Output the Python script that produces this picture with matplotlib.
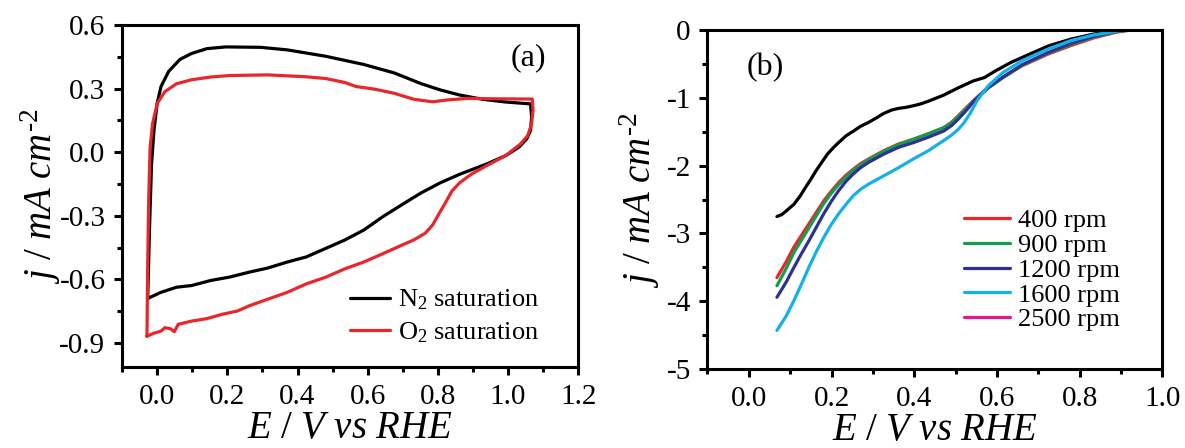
import matplotlib
matplotlib.use("Agg")
import matplotlib.pyplot as plt
from matplotlib.ticker import MultipleLocator

plt.rcParams['font.family'] = ['Liberation Serif', 'DejaVu Serif']
plt.rcParams['mathtext.fontset'] = 'custom'
plt.rcParams['mathtext.rm'] = 'Liberation Serif'
plt.rcParams['mathtext.it'] = 'Liberation Serif:italic'
plt.rcParams['mathtext.bf'] = 'Liberation Serif:bold'

# ---------------- Panel (a): CV curves ----------------
n2_E = [-0.027, -0.022, -0.016, -0.009, 0.0, 0.011, 0.033, 0.065, 0.098, 0.142, 0.196, 0.295,
        0.371, 0.48, 0.589, 0.676, 0.753, 0.807, 0.862, 0.927, 0.993, 1.064,
        1.067, 1.064, 1.053, 1.031, 0.993, 0.938, 0.862, 0.807, 0.753, 0.698, 0.644, 0.589,
        0.535, 0.48, 0.425, 0.371, 0.316, 0.262, 0.207, 0.153, 0.098, 0.055, 0.011, -0.027]
n2_j = [-0.693, -0.375, -0.056, 0.103, 0.23, 0.31, 0.382, 0.438, 0.466, 0.489, 0.497, 0.495,
        0.483, 0.453, 0.414, 0.374, 0.323, 0.294, 0.27, 0.25, 0.237, 0.228,
        0.167, 0.103, 0.063, 0.024, -0.016, -0.056, -0.104, -0.144, -0.191, -0.247, -0.303, -0.367,
        -0.414, -0.454, -0.494, -0.518, -0.546, -0.566, -0.589, -0.605, -0.629, -0.637, -0.661, -0.69]

o2_E = [-0.029, -0.027, -0.024, -0.02, -0.013, 0.0, 0.022, 0.055, 0.098, 0.153, 0.207, 0.316,
        0.425, 0.48, 0.535, 0.567, 0.622, 0.676, 0.731, 0.785, 0.829, 0.884, 0.971, 1.069,
        1.071, 1.067, 1.056, 1.036, 0.993, 0.938, 0.895, 0.862, 0.84, 0.824, 0.807, 0.785,
        0.764, 0.731, 0.687, 0.644, 0.589, 0.535, 0.48, 0.425, 0.371, 0.316, 0.262, 0.229,
        0.185, 0.142, 0.098, 0.06, 0.049, 0.038, 0.022, 0.011, -0.011, -0.029]
o2_j = [-0.868, -0.534, -0.215, 0.024, 0.135, 0.23, 0.286, 0.323, 0.342, 0.355, 0.362, 0.365,
        0.356, 0.348, 0.329, 0.31, 0.297, 0.278, 0.25, 0.238, 0.247, 0.254, 0.252, 0.251,
        0.199, 0.135, 0.079, 0.04, -0.016, -0.064, -0.104, -0.144, -0.183, -0.231, -0.279, -0.343,
        -0.382, -0.414, -0.446, -0.478, -0.518, -0.55, -0.59, -0.621, -0.661, -0.693, -0.725, -0.749,
        -0.765, -0.785, -0.797, -0.812, -0.847, -0.833, -0.828, -0.844, -0.855, -0.868]

# ---------------- Panel (b): LSV curves ----------------
lsv_black_E = [0.068, 0.08, 0.09, 0.109, 0.125, 0.136, 0.15, 0.163, 0.19, 0.205, 0.217, 0.235,
               0.253, 0.27, 0.29, 0.31, 0.326, 0.345, 0.362, 0.38, 0.398, 0.415, 0.434, 0.471,
               0.507, 0.543, 0.57, 0.597, 0.633, 0.679, 0.724, 0.778, 0.833, 0.887, 0.941]
lsv_black_j = [-2.75, -2.72, -2.67, -2.57, -2.44, -2.33, -2.20, -2.07, -1.83, -1.73, -1.66, -1.56,
               -1.49, -1.42, -1.36, -1.29, -1.23, -1.18, -1.155, -1.14, -1.116, -1.09, -1.05, -0.96,
               -0.85, -0.75, -0.70, -0.60, -0.48, -0.355, -0.235, -0.135, -0.06, -0.01, 0.015]

lsv_E = [0.068, 0.09, 0.109, 0.127, 0.145, 0.163, 0.181, 0.199, 0.217, 0.235, 0.253, 0.27,
         0.29, 0.308, 0.326, 0.362, 0.398, 0.434, 0.471, 0.49, 0.507, 0.525, 0.543, 0.561,
         0.579, 0.615, 0.661, 0.724, 0.778, 0.833, 0.887, 0.941]
j_400 = [-3.65, -3.42, -3.20, -3.03, -2.86, -2.69, -2.52, -2.38, -2.25, -2.14, -2.05, -1.97,
         -1.90, -1.84, -1.78, -1.68, -1.61, -1.53, -1.44, -1.36, -1.26, -1.15, -1.04, -0.94,
         -0.846, -0.698, -0.526, -0.354, -0.231, -0.118, -0.034, 0.015]
j_900 = [-3.77, -3.52, -3.28, -3.10, -2.92, -2.74, -2.56, -2.41, -2.28, -2.17, -2.07, -1.99,
         -1.91, -1.85, -1.79, -1.69, -1.61, -1.53, -1.44, -1.37, -1.27, -1.16, -1.05, -0.95,
         -0.85, -0.70, -0.52, -0.34, -0.215, -0.105, -0.025, 0.02]
j_1200 = [-3.94, -3.72, -3.50, -3.30, -3.11, -2.91, -2.71, -2.53, -2.37, -2.23, -2.12, -2.03,
          -1.95, -1.89, -1.83, -1.73, -1.66, -1.58, -1.49, -1.41, -1.31, -1.19, -1.06, -0.95,
          -0.85, -0.69, -0.51, -0.33, -0.20, -0.095, -0.02, 0.015]
lsv_E_1600 = [0.068, 0.09, 0.109, 0.127, 0.145, 0.163, 0.181, 0.199, 0.217, 0.235, 0.253, 0.27,
              0.29, 0.308, 0.326, 0.362, 0.398, 0.434, 0.471, 0.49, 0.507, 0.52, 0.534, 0.552,
              0.579, 0.615, 0.661, 0.724, 0.778, 0.833, 0.887, 0.941]
j_1600 = [-4.43, -4.22, -3.99, -3.75, -3.50, -3.27, -3.06, -2.87, -2.71, -2.57, -2.44, -2.35,
          -2.27, -2.21, -2.15, -2.03, -1.90, -1.78, -1.63, -1.55, -1.46, -1.37, -1.24, -1.04,
          -0.82, -0.624, -0.452, -0.28, -0.157, -0.074, -0.02, 0.015]
rpm_labels = ['400 rpm', '900 rpm', '1200 rpm', '1600 rpm', '2500 rpm']
rpm_colors = ['#e8262c', '#0fa04b', '#2e3192', '#13b1ec', '#e6168c']

fig = plt.figure(figsize=(11.85, 4.48), dpi=100)
axa = fig.add_axes([0.103, 0.181, 0.385, 0.763])
axb = fig.add_axes([0.597, 0.176, 0.384, 0.757])

lw = 2.3
kw = dict(lw=lw, solid_joinstyle='round', solid_capstyle='round')
axa.plot(n2_E, n2_j, color='black', label=r'N$_\mathrm{2}$ saturation', **kw)
axa.plot(o2_E, o2_j, color='#e8262c', label=r'O$_\mathrm{2}$ saturation', **kw)
axa.set_xlim(-0.1, 1.2)
axa.set_ylim(-1.013, 0.6)
axa.set_xticks([0.0, 0.2, 0.4, 0.6, 0.8, 1.0, 1.2])
axa.set_xticklabels(['0.0', '0.2', '0.4', '0.6', '0.8', '1.0', '1.2'])
axa.xaxis.set_minor_locator(MultipleLocator(0.1))
axa.set_yticks([-0.9, -0.6, -0.3, 0.0, 0.3, 0.6])
axa.set_yticklabels(['-0.9', '-0.6', '-0.3', '0.0', '0.3', '0.6'])
axa.yaxis.set_minor_locator(MultipleLocator(0.15))
axa.text(0.89, 0.906, '(a)', transform=axa.transAxes, fontsize=23, ha='center', va='center')
axa.legend(loc='center left', bbox_to_anchor=(0.50, 0.148), frameon=False, fontsize=19,
           handlelength=1.5, handletextpad=0.3, labelspacing=0.3, borderpad=0, borderaxespad=0)

axb.plot(lsv_black_E, lsv_black_j, color='black', **kw)
axb.plot(lsv_E, j_400, color=rpm_colors[0], label=rpm_labels[0], **kw)
axb.plot(lsv_E, j_900, color=rpm_colors[1], label=rpm_labels[1], **kw)
axb.plot(lsv_E, j_1200, color=rpm_colors[2], label=rpm_labels[2], **kw)
axb.plot(lsv_E_1600, j_1600, color=rpm_colors[3], label=rpm_labels[3], **kw)
axb.plot([], [], color=rpm_colors[4], label=rpm_labels[4], **kw)
axb.set_xlim(-0.1, 1.0)
axb.set_ylim(-5, 0)
axb.set_xticks([0.0, 0.2, 0.4, 0.6, 0.8, 1.0])
axb.set_xticklabels(['0.0', '0.2', '0.4', '0.6', '0.8', '1.0'])
axb.xaxis.set_minor_locator(MultipleLocator(0.1))
axb.set_yticks([-5, -4, -3, -2, -1, 0])
axb.set_yticklabels(['-5', '-4', '-3', '-2', '-1', '0'])
axb.yaxis.set_minor_locator(MultipleLocator(0.5))
axb.text(0.127, 0.888, '(b)', transform=axb.transAxes, fontsize=23, ha='center', va='center')
axb.legend(loc='center left', bbox_to_anchor=(0.564, 0.292), frameon=False, fontsize=19,
           handlelength=1.75, handletextpad=0.3, labelspacing=0.05, borderpad=0, borderaxespad=0)

for ax, ylp in ((axa, -3), (axb, 3)):
    for s in ax.spines.values():
        s.set_linewidth(2.2)
    ax.tick_params(which='major', direction='out', length=6, width=2.2, labelsize=21, pad=6)
    ax.tick_params(which='minor', direction='out', length=3.5, width=2.2)
    ax.set_xlabel(r'$E\ /\ V\ vs\ RHE$', fontsize=28, labelpad=0)
    ax.set_ylabel(r'$j\ /\ mA\ cm^{\text{-}2}$', fontsize=28, labelpad=ylp)

fig.savefig('out.png', dpi=100)
